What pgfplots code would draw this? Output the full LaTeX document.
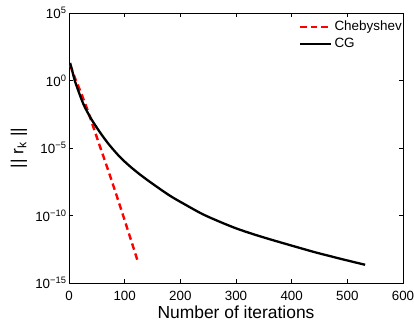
\documentclass[border=0pt]{standalone}
\usepackage{fontspec}
\setmainfont{Liberation Sans}
\usepackage{graphicx}
\usepackage{pgfplots}
\pgfplotsset{compat=1.18}
\begin{document}
\begin{tikzpicture}
\begin{axis}[
  name=ax,
  scale only axis, width=334bp, height=270bp,
  ymode=log, xmin=0, xmax=600, ymin=1e-15, ymax=1e5,
  xtick={0,100,...,600},
  ytick={1e5,1,1e-5,1e-10,1e-15},
  yticklabels={10\textsuperscript{5},10\textsuperscript{0},10\textsuperscript{\textminus 5},10\textsuperscript{\textminus 10},10\textsuperscript{\textminus 15}},
  yminorticks=false,
  tick align=inside, tick pos=both,
  major tick length=4bp,
  tick style={black, line width=0.5bp},
  axis line style={black, line width=0.8bp},
  /pgf/number format/assume math mode=true,
  ticklabel style={font=\fontsize{13.4}{16}\selectfont},
  xticklabel style={yshift=-5bp},
  yticklabel style={xshift=1bp},
  label style={font=\fontsize{17.5}{20}\selectfont},
  xlabel={Number of iterations},
  xlabel style={at={(rel axis cs:0.5,0)}, anchor=base, yshift=-35bp},
  legend style={draw=none, fill=none, at={(1,1)}, anchor=north east, font=\fontsize{13.5}{16}\selectfont, inner sep=1bp, row sep=2bp, xshift=2bp, yshift=-5bp},
  legend cell align=left,
  legend image code/.code={\draw[#1] (0bp,0bp) -- (31bp,0bp);},
]
\addplot[red, line width=2.4bp, dash pattern=on 6.5bp off 4bp] coordinates {
(2,14.13) (12,1.122) (22,0.1122) (33,7.079e-3) (45,2.512e-4) (57,8.913e-6) (70,2.512e-7) (85,3.548e-9) (100,4.467e-11) (112,1.259e-12) (124,3.548e-14)
};
\addlegendentry{Chebyshev}
\addplot[black, line width=2.3bp, smooth] coordinates {
(2,19.95) (5,7.079) (10,1.122) (18,0.1259) (27,1.413e-2) (40,1.413e-3) (55,1.585e-4) (72,1.778e-5) (93,1.862e-6) (115,2.818e-7) (140,4.467e-8) (180,3.162e-9) (210,6.026e-10) (240,1.259e-10) (270,3.548e-11) (300,1.122e-11) (330,4.266e-12) (360,1.778e-12) (400,5.888e-13) (440,1.995e-13) (470,9.55e-14) (500,4.677e-14) (532,2.239e-14)
};
\addlegendentry{CG}
\end{axis}
\node[inner sep=0pt, font=\fontsize{17.5}{20}\selectfont] at ([xshift=-50bp]ax.west) {\rotatebox{90}{|| r\textsubscript{k} ||}};
\pgfresetboundingbox
\path[use as bounding box] ([xshift=-69bp,yshift=-41bp]ax.south west) rectangle ([xshift=11bp,yshift=13bp]ax.north east);
\end{tikzpicture}
\end{document}
